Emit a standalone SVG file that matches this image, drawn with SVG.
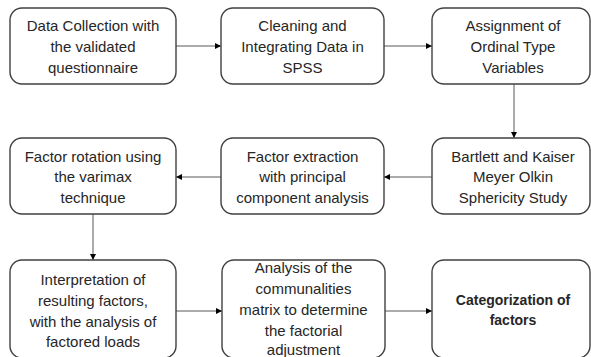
<svg xmlns="http://www.w3.org/2000/svg" width="591" height="357" viewBox="0 0 591 357">
<defs>
<style>
.box{fill:#fff;stroke:#404040;stroke-width:1.4}
.t{font-family:"Liberation Sans",Arial,sans-serif;font-size:15px;fill:#262626;text-anchor:middle}
.b{font-weight:bold;font-size:14px}
.c{stroke:#595959;stroke-width:1;fill:none;marker-end:url(#ah)}
</style>
<marker id="ah" viewBox="0 0 10 10" refX="10" refY="5" markerWidth="6" markerHeight="6" markerUnits="userSpaceOnUse" orient="auto">
<path d="M0,0 L10,5 L0,10 z" fill="#000"/>
</marker>
</defs>
<rect width="591" height="357" fill="#fff"/>
<g id="connectors">
<line class="c" x1="176" y1="46" x2="221" y2="46"/>
<line class="c" x1="384" y1="46" x2="432" y2="46"/>
<line class="c" x1="514" y1="84" x2="514" y2="138"/>
<line class="c" x1="432" y1="177" x2="384" y2="177"/>
<line class="c" x1="221" y1="177" x2="176" y2="177"/>
<line class="c" x1="93" y1="214" x2="93" y2="260"/>
<line class="c" x1="176" y1="311" x2="222" y2="311"/>
<line class="c" x1="385" y1="311" x2="432" y2="311"/>
</g>
<g id="n1">
<rect class="box" x="10" y="8" width="166" height="76" rx="12"/>
<text class="t" x="93" y="31">Data Collection with</text>
<text class="t" x="93" y="52">the validated</text>
<text class="t" x="93" y="73">questionnaire</text>
</g>
<g id="n2">
<rect class="box" x="221" y="8" width="163" height="76" rx="12"/>
<text class="t" x="302.5" y="31">Cleaning and</text>
<text class="t" x="302.5" y="52">Integrating Data in</text>
<text class="t" x="302.5" y="73">SPSS</text>
</g>
<g id="n3">
<rect class="box" x="432" y="8" width="158" height="76" rx="12"/>
<text class="t" x="513" y="31">Assignment of</text>
<text class="t" x="513" y="52">Ordinal Type</text>
<text class="t" x="513" y="73">Variables</text>
</g>
<g id="n4">
<rect class="box" x="10" y="138" width="166" height="76" rx="12"/>
<text class="t" x="93" y="162">Factor rotation using</text>
<text class="t" x="93" y="182">the varimax</text>
<text class="t" x="93" y="203">technique</text>
</g>
<g id="n5">
<rect class="box" x="221" y="138" width="163" height="76" rx="12"/>
<text class="t" x="302.5" y="162">Factor extraction</text>
<text class="t" x="302.5" y="182">with principal</text>
<text class="t" x="302.5" y="203">component analysis</text>
</g>
<g id="n6">
<rect class="box" x="432" y="138" width="158" height="76" rx="12"/>
<text class="t" x="513" y="162">Bartlett and Kaiser</text>
<text class="t" x="513" y="182">Meyer Olkin</text>
<text class="t" x="513" y="203">Sphericity Study</text>
</g>
<g id="n7">
<rect class="box" x="10" y="260" width="166" height="98" rx="12"/>
<text class="t" x="93" y="285">Interpretation of</text>
<text class="t" x="93" y="306">resulting factors,</text>
<text class="t" x="93" y="327">with the analysis of</text>
<text class="t" x="93" y="347">factored loads</text>
</g>
<g id="n8">
<rect class="box" x="222" y="260" width="163" height="98" rx="12"/>
<text class="t" x="303.5" y="273">Analysis of the</text>
<text class="t" x="303.5" y="294">communalities</text>
<text class="t" x="303.5" y="315">matrix to determine</text>
<text class="t" x="303.5" y="336">the factorial</text>
<text class="t" x="303.5" y="355">adjustment</text>
</g>
<g id="n9">
<rect class="box" x="432" y="260" width="158" height="98" rx="12"/>
<text class="t b" x="513" y="305">Categorization of</text>
<text class="t b" x="513" y="325">factors</text>
</g>
</svg>
